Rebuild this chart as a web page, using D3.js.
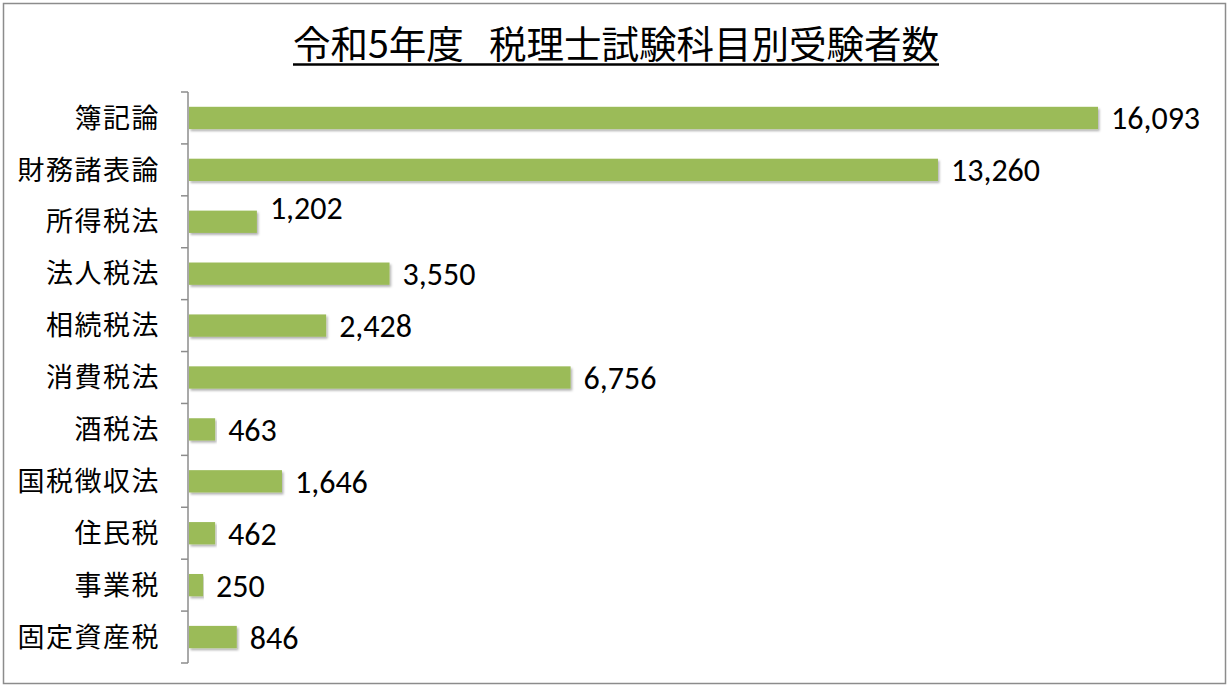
<!DOCTYPE html>
<html><head><meta charset="utf-8">
<script src="https://cdn.jsdelivr.net/npm/d3@7"></script>
<style>body{margin:0;background:#fff}svg{display:block}</style>
</head><body>
<script>
const categories = ["簿記論","財務諸表論","所得税法","法人税法","相続税法","消費税法","酒税法","国税徴収法","住民税","事業税","固定資産税"];
const values = [16093,13260,1202,3550,2428,6756,463,1646,462,250,846];
const title = "令和5年度   税理士試験科目別受験者数";

(function(){
const W = 1229, H = 687;
const svg = d3.select("body").append("svg").attr("width", W).attr("height", H);
const font = "'Noto Sans CJK JP','Noto Sans',sans-serif";

const defs = svg.append("defs");
const f = defs.append("filter").attr("id","sh").attr("x","-5%").attr("y","-20%").attr("width","110%").attr("height","160%");
f.append("feDropShadow").attr("dx",1.5).attr("dy",2).attr("stdDeviation",1.2).attr("flood-color","#000").attr("flood-opacity",0.3);

svg.append("rect").attr("x",3.5).attr("y",3.5).attr("width",W-7).attr("height",H-7)
  .attr("fill","#fff").attr("stroke","#8c8c8c").attr("stroke-width",1.5);

const x0 = 189, plotTop = 92, plotBottom = 663;
const x = d3.scaleLinear().domain([0,16093]).range([x0, 1098]);
const y = d3.scaleBand().domain(categories).range([plotTop, plotBottom]).paddingInner(0.57).paddingOuter(0.285);

svg.append("g").selectAll("rect").data(values).join("rect")
  .attr("x", x(0)).attr("y",(d,i)=>y(categories[i]))
  .attr("width", d=>x(d)-x(0)).attr("height", y.bandwidth())
  .attr("fill","#9BBB59").attr("filter","url(#sh)");

const band = (plotBottom-plotTop)/categories.length;
const ax = svg.append("g");
ax.append("line").attr("x1",x0-1).attr("x2",x0-1).attr("y1",plotTop).attr("y2",plotBottom).attr("stroke","#8c8c8c").attr("stroke-width",1.5);
ax.selectAll("line.t").data(d3.range(categories.length+1)).join("line").attr("class","t")
  .attr("x1",x0-8).attr("x2",x0-1).attr("y1",i=>plotTop+i*band).attr("y2",i=>plotTop+i*band)
  .attr("stroke","#8c8c8c").attr("stroke-width",1.5);

svg.append("g").selectAll("text").data(categories).join("text")
  .attr("x",160).attr("y",d=>y(d)+y.bandwidth()/2).attr("dy","0.36em")
  .attr("text-anchor","end").attr("font-family",font).attr("font-size",27).attr("fill","#000")
  .attr("letter-spacing",1.5)
  .text(d=>d);

svg.append("g").selectAll("text").data(values).join("text")
  .attr("x",d=>x(d)+13).attr("y",(d,i)=>y(categories[i])+y.bandwidth()/2).attr("dy",(d,i)=>i===2?"-0.1em":"0.36em")
  .attr("font-family","Carlito,'Liberation Sans','Noto Sans',sans-serif").attr("font-size",32).attr("fill","#000")
  .text(d=>d3.format(",")(d));

const t = svg.append("text").attr("x",616).attr("y",58).attr("text-anchor","middle")
  .attr("font-family",font).attr("font-size",37.5).attr("fill","#000")
  .style("white-space","pre").text(title);
const bb = t.node().getBBox();
svg.append("line").attr("x1",bb.x).attr("x2",bb.x+bb.width).attr("y1",64.5).attr("y2",64.5).attr("stroke","#000").attr("stroke-width",2.4);
})();
</script>
</body></html>
